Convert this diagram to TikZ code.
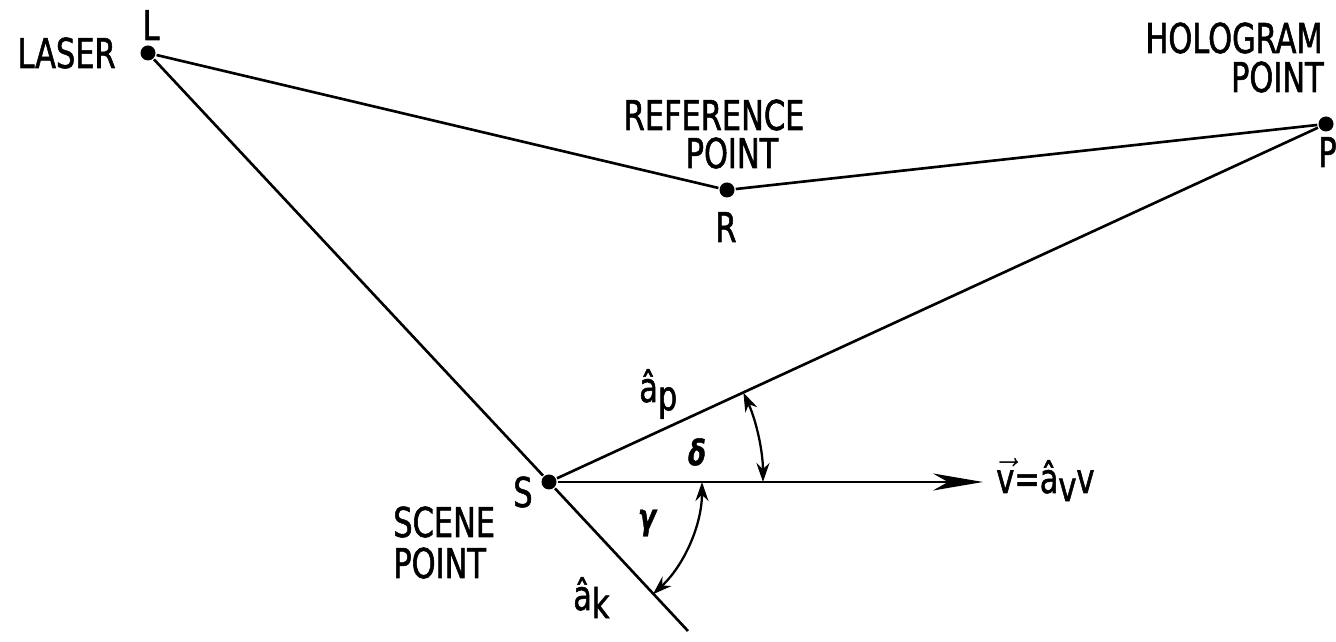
\documentclass[tikz,border=0pt]{standalone}
\usepackage{fontspec}
\setmainfont[FakeStretch=0.74,FakeBold=1.3]{DejaVu Sans}
\usepackage{tikz}
\usetikzlibrary{arrows.meta,positioning}

\newcommand{\lowr}[1]{\raisebox{-0.2em}{#1}}

\begin{document}
\begin{tikzpicture}[
    x=0.02cm,
    y=0.02cm,
    line width=1.5pt,
    dot/.style={
        circle,
        fill,
        inner sep=0pt,
        minimum size=0.3cm
    },
    lbl/.style={
        inner sep=0pt,
        font=\fontsize{23.4}{27}\selectfont
    },
    greek/.style={
        inner sep=0pt,
        font=\fontsize{20}{24}\selectfont\bfseries\itshape
    },
    anglearrow/.style={
        {Stealth[length=0.38cm,width=0.26cm]}-{Stealth[length=0.38cm,width=0.26cm]},
        line width=1.3pt
    },
    bigarrow/.style={
        -{Stealth[length=1cm,width=0.34cm,inset=0.3cm]}
    }
]

\useasboundingbox (0,0) rectangle (1336,642);

\node[dot] (L) at (148,589) {};
\node[dot] (R) at (727,452) {};
\node[dot] (P) at (1326,518) {};
\node[dot] (S) at (549,160) {};
\coordinate (K) at (688,11);
\coordinate (V) at (983,160);

\node[lbl, anchor=base east] (laser) at (117,574) {LASER};
\node[lbl, anchor=base] (Llab) at (151,602) {L};
\node[lbl, anchor=base] (ref1) at (714,512) {REFERENCE};
\node[lbl, anchor=base] (ref2) at (732,474) {POINT};
\node[lbl, anchor=base] (Rlab) at (726,400) {R};
\node[lbl, anchor=base east] (holo1) at (1324,589) {HOLOGRAM};
\node[lbl, anchor=base east] (holo2) at (1325,550) {POINT};
\node[lbl, anchor=base west] (Plab) at (1317,475) {P};
\node[lbl, anchor=base] (Slab) at (523,135) {S};
\node[lbl, anchor=base west] (scene1) at (392,105) {SCENE};
\node[lbl, anchor=base west] (scene2) at (392,64) {POINT};

\node[lbl, anchor=base west] (ap) at (638,240) {â\lowr{p}};
\node[lbl, anchor=base west] (ak) at (572,32) {â\lowr{k}};
\node[greek] (delta) at (697,190) {δ};
\node[greek] (gamma) at (647,119) {γ};
\node[lbl, anchor=base west] (vlab) at (995,149) {$\vec{\mbox{v}}$=â\lowr{v}v};

\draw (L) -- (R);
\draw (R) -- (P);
\draw (L) -- (S);
\draw (S) -- (K);
\draw (S) -- (P);
\draw[bigarrow] (S) -- (V);

\draw[anglearrow] ([shift={(0:4.28cm)}]S.center) arc[start angle=0, end angle=24.7, radius=4.28cm];
\draw[anglearrow] ([shift={(0:3.06cm)}]S.center) arc[start angle=0, end angle=-47.2, radius=3.06cm];

\end{tikzpicture}
\end{document}
